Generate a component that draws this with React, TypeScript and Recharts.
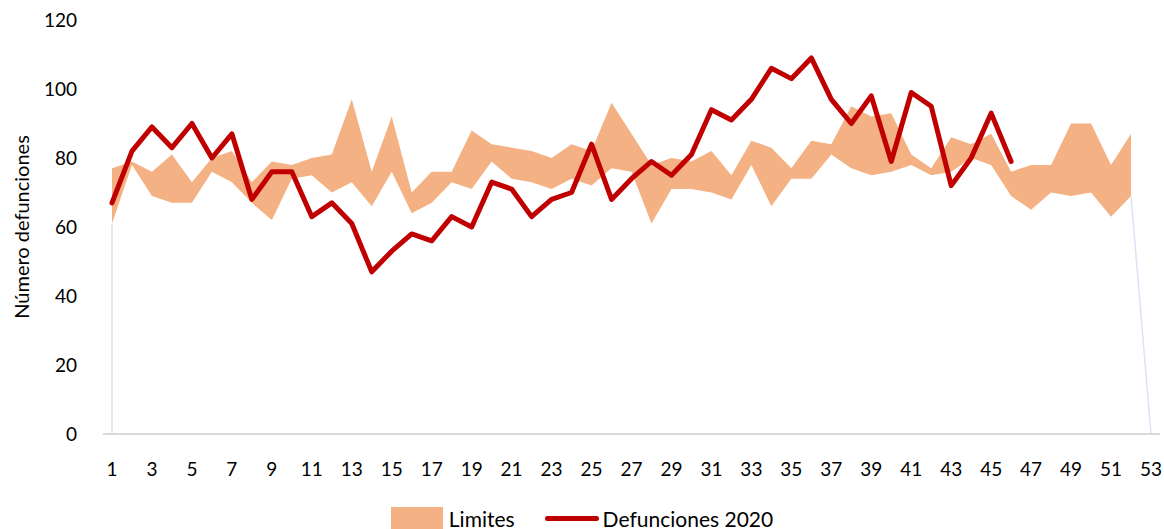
import React from 'react';
import { ComposedChart, Area, Line, XAxis, YAxis, Legend, ReferenceLine } from 'recharts';

const weeks = [1,2,3,4,5,6,7,8,9,10,11,12,13,14,15,16,17,18,19,20,21,22,23,24,25,26,27,28,29,30,31,32,33,34,35,36,37,38,39,40,41,42,43,44,45,46,47,48,49,50,51,52,53];
const lowerLimit = [61,78,69,67,67,76,73,67,62,74,75,70,73,66,76,64,67,73,71,79,74,73,71,74,72,77,76,61,71,71,70,68,78,66,74,74,81,77,75,76,78,75,76,80,78,69,65,70,69,70,63,69,null];
const upperLimit = [77,79,76,81,73,80,82,73,79,78,80,81,97,76,92,70,76,76,88,84,83,82,80,84,82,96,87,78,80,79,82,75,85,83,77,85,84,95,92,93,81,77,86,84,87,76,78,78,90,90,78,87,null];
const deaths2020 = [67,82,89,83,90,80,87,68,76,76,63,67,61,47,53,58,56,63,60,73,71,63,68,70,84,68,74,79,75,81,94,91,97,106,103,109,97,90,98,79,99,95,72,80,93,79,null,null,null,null,null,null,null];
const xTicks = [1,3,5,7,9,11,13,15,17,19,21,23,25,27,29,31,33,35,37,39,41,43,45,47,49,51,53];
const yTicks = [0,20,40,60,80,100,120];

const data = weeks.map((w, i) => ({
  week: w,
  limites: lowerLimit[i] != null && upperLimit[i] != null ? [lowerLimit[i], upperLimit[i]] : null,
  defunciones: deaths2020[i],
}));

const FONT = 'Lato, "Open Sans", sans-serif';
const BAND = '#F4B183';
const RED = '#C00000';
const EDGE = '#DAE3F3';

const renderLegend = () => (
  <div style={{ display: 'flex', justifyContent: 'center', alignItems: 'center', fontFamily: FONT, fontSize: 21, color: '#000', height: 24 }}>
    <span style={{ display: 'inline-block', width: 52, height: 22, background: BAND, marginRight: 6 }} />
    <span style={{ marginRight: 30 }}>Limites</span>
    <span style={{ display: 'inline-block', width: 54, height: 5, borderRadius: 3, background: RED, marginRight: 4 }} />
    <span>Defunciones 2020</span>
  </div>
);

export default function App() {
  return (
    <div style={{ position: 'absolute', left: 0, top: 0, width: 1164, height: 529, background: '#fff', overflow: 'hidden' }}>
      <ComposedChart width={1164} height={529} data={data} margin={{ top: 20, right: 4, bottom: 21, left: 0 }}>
        <XAxis
          dataKey="week"
          type="number"
          domain={[1, 53]}
          ticks={xTicks}
          interval={0}
          padding={{ left: 9, right: 9 }}
          axisLine={{ stroke: '#D9D9D9', strokeWidth: 2 }}
          tickLine={false}
          tick={{ fontFamily: FONT, fontSize: 19, fill: '#000' }}
          tickMargin={23}
          height={50}
        />
        <YAxis
          domain={[0, 120]}
          ticks={yTicks}
          axisLine={false}
          tickLine={false}
          tick={{ fontFamily: FONT, fontSize: 19, fill: '#000' }}
          tickMargin={20}
          width={103}
          label={{ value: 'Número defunciones', angle: -90, position: 'insideLeft', offset: 22, style: { fontFamily: FONT, fontSize: 20, fill: '#000', textAnchor: 'middle' } }}
        />
        <Legend verticalAlign="bottom" content={renderLegend} wrapperStyle={{ position: 'absolute', top: 506, left: 0, width: 1164 }} />
        <ReferenceLine segment={[{ x: weeks[0], y: 0 }, { x: weeks[0], y: lowerLimit[0] as number }]} stroke={EDGE} strokeWidth={1.5} />
        <ReferenceLine segment={[{ x: weeks[51], y: lowerLimit[51] as number }, { x: weeks[52], y: 0 }]} stroke={EDGE} strokeWidth={1.5} />
        <Area
          dataKey="limites"
          name="Limites"
          type="linear"
          fill={BAND}
          fillOpacity={1}
          stroke="none"
          isAnimationActive={false}
          connectNulls={false}
          dot={false}
          activeDot={false}
        />
        <Line
          dataKey="defunciones"
          name="Defunciones 2020"
          type="linear"
          stroke={RED}
          strokeWidth={5}
          strokeLinejoin="round"
          strokeLinecap="round"
          dot={false}
          activeDot={false}
          isAnimationActive={false}
        />
      </ComposedChart>
    </div>
  );
}
